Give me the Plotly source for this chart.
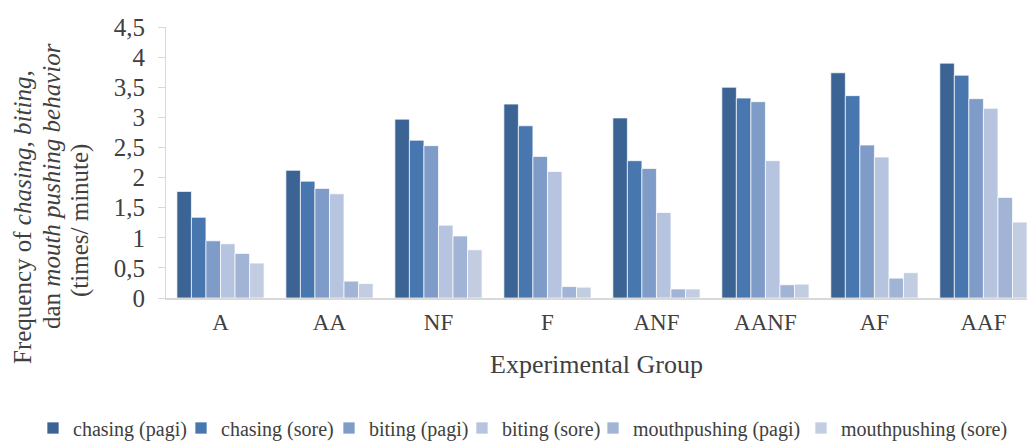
import plotly.graph_objects as go

groups = ["A", "AA", "NF", "F", "ANF", "AANF", "AF", "AAF"]

chasing_pagi = [1.77, 2.12, 2.97, 3.22, 2.99, 3.50, 3.74, 3.90]
chasing_sore = [1.34, 1.94, 2.62, 2.86, 2.28, 3.32, 3.36, 3.70]
biting_pagi = [0.95, 1.82, 2.53, 2.35, 2.15, 3.26, 2.54, 3.31]
biting_sore = [0.90, 1.73, 1.21, 2.10, 1.42, 2.28, 2.34, 3.15]
mouth_pagi = [0.74, 0.28, 1.03, 0.19, 0.15, 0.22, 0.33, 1.67]
mouth_sore = [0.58, 0.24, 0.80, 0.18, 0.15, 0.23, 0.42, 1.26]

series_names = ["chasing (pagi)", "chasing (sore)", "biting (pagi)",
                "biting (sore)", "mouthpushing (pagi)", "mouthpushing (sore)"]
series_values = [chasing_pagi, chasing_sore, biting_pagi,
                 biting_sore, mouth_pagi, mouth_sore]
colors = ["#3B6495", "#4877B0", "#7F9BC7", "#B7C4DF", "#A2B4D5", "#C3CDE2"]
legend_widths = [103, 103, 88, 86, 163, 168]

font_family = "Liberation Serif, Times New Roman, serif"
text_color = "#404040"

fig = go.Figure()
for name, vals, col, lw in zip(series_names, series_values, colors, legend_widths):
    fig.add_trace(go.Bar(
        x=groups, y=vals, name=name, legendwidth=lw,
        marker=dict(color=col, line=dict(color="rgba(255,255,255,0.7)", width=1)),
    ))

W, H = 1027, 441
L, R, T, B = 166, 0, 27, 441 - 298
pw = W - L - R
ph = H - T - B

def px_x(p):
    return (p - L) / pw

def px_y(p):
    return (H - B - p) / ph

fig.update_layout(
    width=W, height=H,
    margin=dict(l=L, r=R, t=T, b=B, pad=0, autoexpand=False),
    paper_bgcolor="white", plot_bgcolor="white",
    barmode="group", bargap=0.2, bargroupgap=0,
    separators=", ",
    font=dict(family=font_family, color=text_color, size=20),
    showlegend=True,
    legend=dict(orientation="h", x=px_x(33), xref="paper", xanchor="left",
                y=px_y(428), yref="paper", yanchor="middle",
                font=dict(size=20, family=font_family, color=text_color),
                itemwidth=30, tracegroupgap=0),
)

fig.update_xaxes(
    type="category", range=[-0.5, 7.4],
    showline=True, linecolor="#D9D9D9", linewidth=1.5,
    ticks="", showgrid=False, zeroline=False,
    ticklabelstandoff=3,
    tickfont=dict(size=23, family=font_family, color=text_color),
    title=dict(text="Experimental Group", standoff=20,
               font=dict(size=26, family=font_family, color=text_color)),
)
fig.update_yaxes(
    range=[0, 4.5], dtick=0.5, tick0=0,
    showline=True, linecolor="#D9D9D9", linewidth=1,
    ticks="outside", ticklen=7, tickcolor="#D9D9D9", tickwidth=1,
    showgrid=False, zeroline=False,
    tickfont=dict(size=25, family=font_family, color=text_color),
    ticklabelstandoff=8,
)

title_lines = [
    ("Frequency of <i>chasing</i>, <i>biting</i>,", 22, 217),
    ("dan <i>mouth pushing behavior</i>", 51, 186),
    ("(times/ minute)", 80, 221),
]
for txt, xp, yp in title_lines:
    fig.add_annotation(
        text=txt, xref="paper", yref="paper",
        x=px_x(xp), y=px_y(yp), xanchor="center", yanchor="middle",
        textangle=-90, showarrow=False,
        font=dict(size=25, family=font_family, color=text_color),
    )

fig.write_html(
    "out.html",
    config={"displayModeBar": False},
    post_script="document.body.style.margin='0';document.body.style.overflow='hidden';",
)
